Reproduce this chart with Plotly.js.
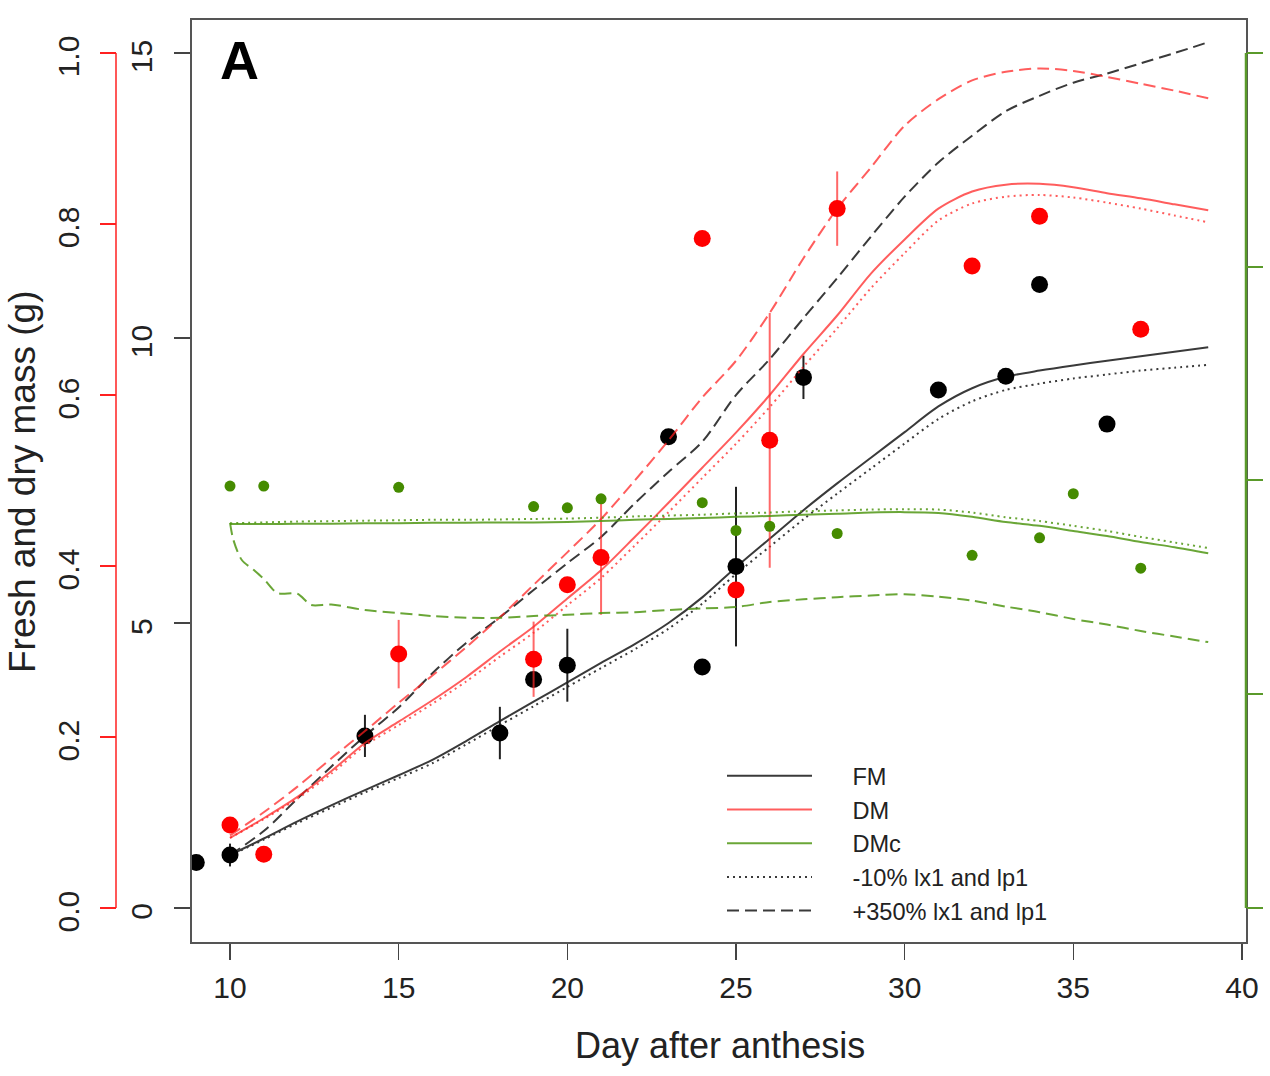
<!DOCTYPE html>
<html><head><meta charset="utf-8">
<script src="https://cdn.plot.ly/plotly-3.0.1.min.js"></script>
<style>body{margin:0;background:#fff}#chart{width:1270px;height:1076px}</style>
</head><body><div id="chart"></div>
<script>
// ---- simulated curves (day after anthesis) ----
const simDays = [10,11,12,13,14,15,16,17,18,19,20,21,22,23,24,25,26,27,28,29,30,31,32,33,34,35,36,37,38,39];
// FM (g), left black axis
const fmSim  = [0.93,1.22,1.52,1.80,2.07,2.33,2.60,2.93,3.28,3.62,3.96,4.30,4.63,5.00,5.45,5.98,6.48,6.98,7.45,7.90,8.35,8.80,9.12,9.32,9.43,9.52,9.60,9.68,9.76,9.84];
const fmLow  = [0.92,1.20,1.49,1.76,2.03,2.28,2.54,2.87,3.21,3.54,3.88,4.21,4.54,4.90,5.34,5.86,6.34,6.82,7.27,7.71,8.15,8.58,8.89,9.09,9.20,9.29,9.36,9.43,9.48,9.53];
const fmHigh = [0.93,1.35,1.92,2.48,3.02,3.52,4.12,4.65,5.10,5.58,6.05,6.51,7.10,7.65,8.18,9.00,9.63,10.35,11.05,11.78,12.48,13.08,13.55,13.98,14.25,14.48,14.64,14.82,15.00,15.19];
// DM (g), red axis
const dmSim  = [0.082,0.105,0.130,0.160,0.193,0.218,0.243,0.270,0.300,0.329,0.362,0.395,0.434,0.474,0.515,0.556,0.600,0.648,0.693,0.742,0.782,0.818,0.838,0.846,0.847,0.843,0.836,0.830,0.823,0.816];
const dmLow  = [0.082,0.104,0.128,0.157,0.190,0.214,0.239,0.265,0.294,0.322,0.354,0.386,0.424,0.463,0.503,0.543,0.586,0.633,0.678,0.725,0.766,0.804,0.824,0.832,0.834,0.831,0.825,0.818,0.810,0.802];
const dmHigh = [0.085,0.112,0.142,0.175,0.207,0.240,0.272,0.305,0.340,0.378,0.416,0.455,0.500,0.547,0.597,0.640,0.696,0.760,0.818,0.866,0.915,0.946,0.968,0.978,0.982,0.979,0.972,0.964,0.956,0.947];
// DMc, green axis
const dmcSim = [0.0898,0.0898,0.0899,0.0899,0.0900,0.0900,0.0901,0.0901,0.0902,0.0902,0.0903,0.0905,0.0908,0.0910,0.0912,0.0915,0.0917,0.0920,0.0922,0.0925,0.0926,0.0924,0.0915,0.0903,0.0894,0.0882,0.0870,0.0856,0.0844,0.0830];
const dmcLow = [0.0900,0.0902,0.0904,0.0905,0.0906,0.0907,0.0908,0.0908,0.0909,0.0910,0.0911,0.0913,0.0916,0.0918,0.0920,0.0923,0.0925,0.0928,0.0930,0.0932,0.0933,0.0932,0.0925,0.0914,0.0905,0.0894,0.0882,0.0868,0.0855,0.0842];
const dmcHighDays = [10,10.1,10.35,10.7,11,11.4,12,12.4,13,14,15,16,17,18,19,20,21,22,23,24,25,26,27,28,29,30,31,32,33,34,35,36,37,38,39];
const dmcHigh = [0.0901,0.0861,0.0814,0.0791,0.0770,0.0737,0.0735,0.0709,0.0710,0.0697,0.0690,0.0683,0.0679,0.0679,0.0683,0.0686,0.0690,0.0692,0.0697,0.0701,0.0704,0.0716,0.0722,0.0727,0.0731,0.0734,0.0728,0.0719,0.0705,0.0692,0.0676,0.0663,0.0648,0.0635,0.0622];

// ---- observations ----
const fmObsDays = [9,10,14,18,19,20,23,24,25,27,31,33,34,36];
const fmObs     = [0.80,0.93,3.02,3.07,4.01,4.26,8.27,4.23,5.99,9.31,9.09,9.33,10.94,8.49];
const fmObsErr  = [0,0.2,0.37,0.46,0,0.64,0,0,1.40,0.38,0,0,0,0];
const dmObsDays = [10,11,15,19,20,21,24,25,26,28,32,34,37];
const dmObs     = [0.097,0.063,0.297,0.291,0.378,0.410,0.783,0.372,0.547,0.818,0.751,0.809,0.677];
const dmObsErr  = [0,0,0.040,0.044,0,0.067,0,0,0.149,0.0435,0,0,0];
const dmcObsDays = [10,11,15,19,20,21,24,25,26,28,32,34,35,37];
const dmcObs     = [0.0987,0.0987,0.0984,0.0939,0.0936,0.0957,0.0948,0.0883,0.0893,0.0876,0.0825,0.0866,0.0969,0.0795];

// ---- axis ticks / legend labels ----
const xTicks = [10,15,20,25,30,35,40];
const fmTicks = [0,5,10,15];
const dmTicks = [0,0.2,0.4,0.6,0.8,1.0];
const dmTickText = ['0.0','0.2','0.4','0.6','0.8','1.0'];
const dmcTicks = [0,0.05,0.1,0.15,0.2];
const legendNames = ['FM','DM','DMc','-10% lx1 and lp1','+350% lx1 and lp1'];

const FONT = 'Liberation Sans, Arial, Helvetica, sans-serif';
const W = 1246, H = 922;
const px = v => v / W;
const py = v => 1 - (v - 20) / H;
const GAP = '\u2002\u2002\u2002';

const cFM = '#3a3a3a', cDM = 'rgba(255,30,30,0.72)', cDMc = 'rgba(80,150,20,0.85)';
const DASH = '12px,6px', DOT = '2px,4px';
const ln = (color, dash) => ({color, width:2, dash: dash || 'solid', shape:'spline', smoothing:0.8});

const traces = [
  {x: dmcHighDays, y: dmcHigh, yaxis:'y3', mode:'lines', line:ln(cDMc, DASH), showlegend:false},
  {x: simDays, y: dmcLow, yaxis:'y3', mode:'lines', line:ln(cDMc, DOT), showlegend:false},
  {x: simDays, y: dmcSim, yaxis:'y3', mode:'lines', name:GAP+legendNames[2], legendrank:3, line:ln(cDMc)},
  {x: simDays, y: dmHigh, yaxis:'y2', mode:'lines', line:ln(cDM, DASH), showlegend:false},
  {x: simDays, y: dmLow, yaxis:'y2', mode:'lines', line:ln(cDM, DOT), showlegend:false},
  {x: simDays, y: dmSim, yaxis:'y2', mode:'lines', name:GAP+legendNames[1], legendrank:2, line:ln(cDM)},
  {x: simDays, y: fmHigh, yaxis:'y', mode:'lines', name:GAP+legendNames[4], legendrank:5, line:ln(cFM, DASH)},
  {x: simDays, y: fmLow, yaxis:'y', mode:'lines', name:GAP+legendNames[3], legendrank:4, line:ln(cFM, DOT)},
  {x: simDays, y: fmSim, yaxis:'y', mode:'lines', name:GAP+legendNames[0], legendrank:1, line:ln(cFM)},
  {x: dmcObsDays, y: dmcObs, yaxis:'y3', mode:'markers', marker:{color:'#458B00', size:11}, showlegend:false},
  {x: dmObsDays, y: dmObs, yaxis:'y2', mode:'markers', marker:{color:'#ff0000', size:17},
   error_y:{type:'data', array: dmObsErr, visible:true, width:0, thickness:2, color:'rgba(255,40,40,0.7)'}, showlegend:false},
  {x: fmObsDays, y: fmObs, yaxis:'y', mode:'markers', marker:{color:'#000000', size:17},
   error_y:{type:'data', array: fmObsErr, visible:true, width:0, thickness:2, color:'#222'}, showlegend:false}
];

const layout = {
  width: 1270, height: 1076,
  margin: {l:0, r:24, t:20, b:134},
  paper_bgcolor:'#fff', plot_bgcolor:'#fff',
  font: {family: FONT, color:'#222'},
  showlegend: true,
  legend: {x: px(722), y: py(754), xanchor:'left', yanchor:'top', bgcolor:'rgba(0,0,0,0)',
           borderwidth:0, font:{size:23.6, family:FONT, color:'#222'}, itemwidth:85, tracegroupgap:0},
  xaxis: {domain:[px(192),1], range:[8.873, 40.12], tickvals:xTicks, ticks:'outside', ticklen:16, tickwidth:1.5,
          tickcolor:'#444', tickfont:{size:30, family:FONT, color:'#222'}, ticklabelstandoff:2,
          showline:true, mirror:true, linecolor:'#555', linewidth:2, showgrid:false, zeroline:false},
  yaxis: {range:[-0.596, 15.58], tickvals:fmTicks, ticks:'outside', ticklen:16, tickwidth:1.5, tickcolor:'#444',
          tickangle:-90, tickfont:{size:30, family:FONT, color:'#222'}, ticklabelstandoff:10, ticklabelshift:8,
          showline:true, mirror:true, linecolor:'#555', linewidth:2, showgrid:false, zeroline:false},
  yaxis2: {overlaying:'y', anchor:'free', position:px(116), side:'left', range:[-0.0397, 1.0386],
          tickvals:dmTicks, ticktext:dmTickText, ticks:'outside', ticklen:16, tickwidth:1.5, tickcolor:'#ff2020',
          tickangle:-90, tickfont:{size:30, family:FONT, color:'#222'}, ticklabelstandoff:9, ticklabelshift:8,
          showline:false, showgrid:false, zeroline:false},
  yaxis3: {overlaying:'y', anchor:'x', side:'right', range:[-0.00794, 0.2077], tickvals:dmcTicks,
          ticks:'outside', ticklen:16, tickwidth:2, tickcolor:'#5a9a2a', showticklabels:false,
          showline:false, showgrid:false, zeroline:false},
  shapes: [
    {type:'line', xref:'paper', yref:'y2', x0:px(116), x1:px(116), y0:0, y1:1, line:{color:'#ff2020', width:1.5}},
    {type:'line', xref:'paper', yref:'y3', x0:1, x1:1, y0:0, y1:0.2, line:{color:'#5a9a2a', width:2.5}}
  ],
  annotations: [
    {text:'<b>A</b>', xref:'paper', yref:'paper', x:px(239.5), y:py(60), xanchor:'center', yanchor:'middle',
     showarrow:false, font:{size:54, family:FONT, color:'#000'}},
    {text:'Fresh and dry mass (g)', xref:'paper', yref:'paper', x:px(22), y:py(482), textangle:-90,
     xanchor:'center', yanchor:'middle', showarrow:false, font:{size:37, family:FONT, color:'#222'}},
    {text:'Day after anthesis', xref:'paper', yref:'paper', x:px(720), y:py(1045), xanchor:'center', yanchor:'middle',
     showarrow:false, font:{size:36, family:FONT, color:'#222'}}
  ]
};

Plotly.newPlot('chart', traces, layout, {displayModeBar:false, staticPlot:true});
</script></body></html>
